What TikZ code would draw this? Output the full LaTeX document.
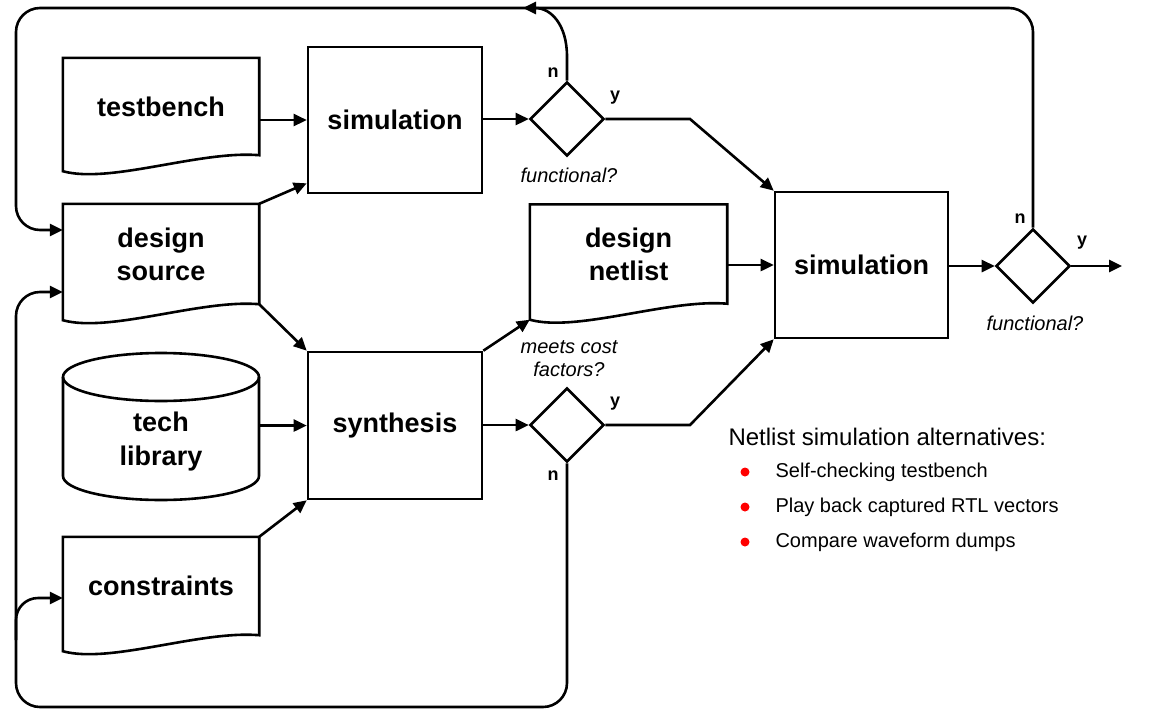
\documentclass[tikz,border=0pt]{standalone}
\usepackage{fontspec}
\setmainfont{Liberation Sans}
\usetikzlibrary{shapes.geometric,arrows.meta,calc}
\newcommand\docoutline[1]{%
  \draw[lw,line join=miter] ($(#1.south west)+(0,16)$) .. controls ($(#1.south west)+(47,29)$) and ($(#1.south east)+(-59,-5)$) .. (#1.south east) -- (#1.north east) -- (#1.north west) -- cycle;}
\begin{document}
\begin{tikzpicture}[x=1pt,y=-1pt,
  lw/.style={line width=2.6pt},
  arr/.style={lw,-{Triangle[length=13pt,width=12pt]}},
  bigfont/.style={font=\fontsize{27}{33}\selectfont\bfseries},
  boxnode/.style={draw,lw,rectangle,inner sep=0pt,bigfont,minimum width=174pt,minimum height=146pt},
  docnode/.style={rectangle,inner sep=0pt,align=center,bigfont},
  dec/.style={draw,lw,diamond,inner sep=0pt,minimum width=74pt,minimum height=74pt},
  yn/.style={font=\fontsize{18}{20}\selectfont\bfseries},
  note/.style={font=\fontsize{20}{23}\selectfont\itshape,align=center},
  listtext/.style={font=\fontsize{20}{24}\selectfont,anchor=west},
  dot/.style={circle,fill=red,inner sep=0pt,minimum size=9pt}
]
\useasboundingbox (0,0) rectangle (1154,715);

% document nodes
\node[docnode,minimum width=196pt,minimum height=97pt] (tb) at (161,106.5) {testbench};
\node[docnode,minimum width=196pt,minimum height=100pt] (ds) at (161,254) {design\\source};
\node[docnode,minimum width=196pt,minimum height=98pt] (cons) at (161,586) {constraints};
\node[docnode,minimum width=197pt,minimum height=99pt] (net) at (628.5,254) {design\\netlist};
\docoutline{tb}
\docoutline{ds}
\docoutline{cons}
\docoutline{net}

% tech library cylinder
\node[docnode,font=\fontsize{27}{34}\selectfont\bfseries,minimum width=196pt,minimum height=78pt] (tl) at (161,442) {tech\\library};
\draw[lw] (161,377) ellipse [x radius=98pt, y radius=24pt];
\draw[lw] (63,377) -- (63,476) arc [start angle=180, end angle=360, x radius=98pt, y radius=24pt] -- (259,377);

% process boxes
\node[boxnode] (sim1) at (395,120) {simulation};
\node[boxnode,minimum height=147pt] (syn) at (395,425.5) {synthesis};
\node[boxnode,minimum width=173pt] (sim2) at (861.5,265) {simulation};

% decisions
\node[dec] (d1) at (567,119) {};
\node[dec] (d3) at (567,425) {};
\node[dec] (d2) at (1033,266) {};

% labels
\node[yn] at (553,73) {n};
\node[yn] at (615,98) {y};
\node[note] at (569,175) {functional?};
\node[yn] at (1020,219) {n};
\node[yn] at (1082,243) {y};
\node[note] at (1035,323) {functional?};
\node[yn] at (615,404) {y};
\node[yn] at (553,476) {n};
\node[note] at (569,359) {meets cost\\factors?};

% connectors
\draw[arr] (tb.east |- sim1.west) -- (sim1.west);
\draw[arr] (ds.north east) -- ($(sim1.south west)+(0,-11)$);
\draw[arr] (ds.south east) -- (syn.north west);
\draw[arr] (tl.east |- syn.west) -- (syn.west);
\draw[arr] (cons.north east) -- (syn.south west);
\draw[arr] (syn.north east) -- ($(net.south west)+(0,16)$);
\draw[arr] (sim1.east |- d1.west) -- (d1.west);
\draw[arr] (syn.east |- d3.west) -- (d3.west);
\draw[arr] (d1.east) -- (690,119) -- (sim2.north west);
\draw[arr] (d3.east) -- (690,425) -- (sim2.south west);
\draw[arr] (net.east |- sim2.west) -- (sim2.west);
\draw[arr] (sim2.east |- d2.west) -- (d2.west);
\coordinate (out) at (1122,266);
\draw[arr] (d2.east) -- (out);

% feedback loops
\draw[arr,rounded corners=24pt] (d2.north) -- (d2.north |- 0,8) -- (16,8) -- (16,230) -- (ds.west |- 0,230);
\draw[arr] (d1.north) -- ++(0,-24) .. controls +(0,-32) and +(28,0) .. (523,8);
\draw[arr,rounded corners=24pt] (d3.south) -- (d3.south |- 0,707) -- (16,707) -- (16,292) -- (ds.west |- 0,292);
\draw[arr,rounded corners=22pt] (16,640) -- (16,598) -- (cons.west |- 0,598);

% notes
\node[font=\fontsize{24}{28}\selectfont,anchor=west] (hdr) at (725,437) {Netlist simulation alternatives:};
\node[dot] (b1) at (745,472) {};
\node[dot] (b2) at (745,507) {};
\node[dot] (b3) at (745,542) {};
\node[listtext] at (772,472) {Self-checking testbench};
\node[listtext] at (772,507) {Play back captured RTL vectors};
\node[listtext] at (772,542) {Compare waveform dumps};
\end{tikzpicture}
\end{document}
